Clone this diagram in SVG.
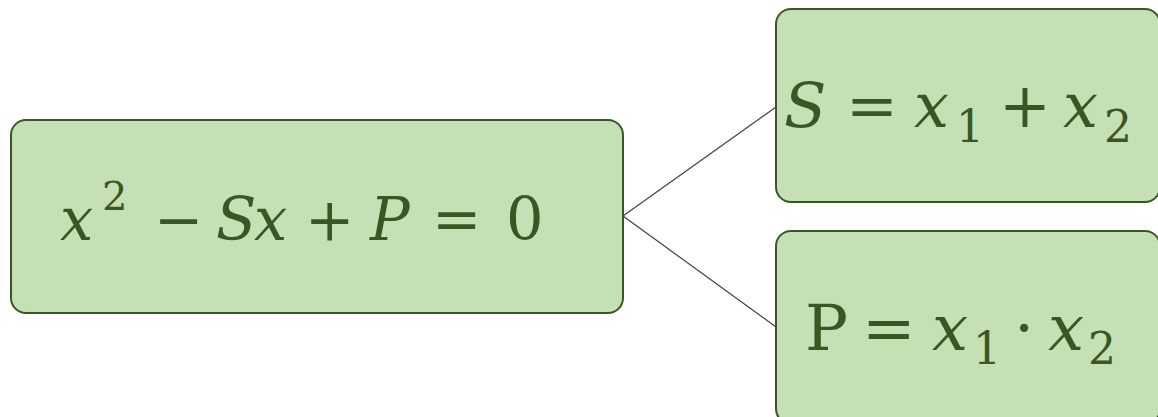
<svg xmlns="http://www.w3.org/2000/svg" width="1158" height="417" viewBox="0 0 1158 417">
<style>
.box{fill:#c5e0b4;stroke:#385723;stroke-width:2}
.t{font-family:"DejaVu Serif","Liberation Serif",serif;fill:#385723}
.i{font-style:italic}
.c{stroke:#404040;stroke-width:1.2;fill:none}
</style>
<rect width="1158" height="417" fill="#ffffff"/>
<g id="connectors">
<line class="c" x1="623" y1="216" x2="776" y2="107"/>
<line class="c" x1="623" y1="216" x2="776" y2="327"/>
</g>
<g id="node-equation">
<rect class="box" x="11" y="120" width="612" height="193" rx="15" ry="15"/>
<text class="t" font-size="59">
<tspan class="i" x="60" y="240">x</tspan><tspan x="102" y="210" font-size="40">2</tspan><tspan x="154" y="240">−</tspan><tspan class="i" x="216" y="240">S</tspan><tspan class="i" x="254" y="240">x</tspan><tspan x="305" y="240">+</tspan><tspan class="i" x="370" y="240">P</tspan><tspan x="432" y="240">=</tspan><tspan x="506" y="240">0</tspan>
</text>
</g>
<g id="node-sum">
<rect class="box" x="776" y="9" width="384" height="193" rx="15" ry="15"/>
<text class="t" font-size="62">
<tspan class="i" x="784" y="127">S</tspan><tspan x="846" y="127">=</tspan><tspan class="i" x="914" y="127">x</tspan><tspan x="956" y="142" font-size="44">1</tspan><tspan x="999" y="127">+</tspan><tspan class="i" x="1063" y="127">x</tspan><tspan x="1104" y="142" font-size="44">2</tspan>
</text>
</g>
<g id="node-product">
<rect class="box" x="776" y="231" width="384" height="193" rx="15" ry="15"/>
<text class="t" font-size="64">
<tspan x="805" y="350">P</tspan><tspan x="862" y="350">=</tspan><tspan class="i" x="932" y="350">x</tspan><tspan x="973" y="364" font-size="44">1</tspan><tspan x="1014" y="350">·</tspan><tspan class="i" x="1048" y="350">x</tspan><tspan x="1088" y="364" font-size="44">2</tspan>
</text>
</g>
</svg>
